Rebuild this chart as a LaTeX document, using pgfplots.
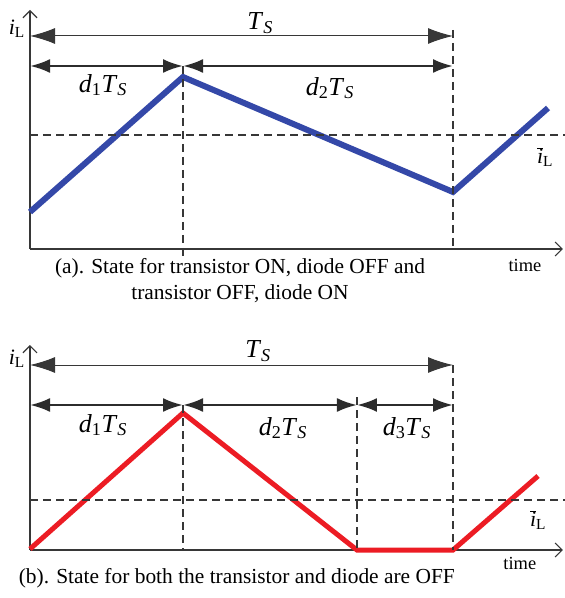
\documentclass[border=0pt]{standalone}
\usepackage{fontspec}
\setmainfont{Liberation Serif}
\usepackage{pgfplots}
\pgfplotsset{compat=1.18}
\usetikzlibrary{arrows.meta}
\definecolor{curblue}{RGB}{52,72,168}
\definecolor{curred}{RGB}{236,28,36}
\definecolor{ink}{RGB}{55,55,55}

\pgfplotsset{
  panel/.style={
    x=423bp, y=1bp, xmin=0, xmax=1.26, ymin=0,
    axis lines=left, xtick=\empty, ytick=\empty,
    axis line style={ink, line width=1.3bp,
      -{Straight Barb[length=7bp,width=14bp,line width=1.2bp]}},
    clip=false, anchor=south west,
  },
}
\tikzset{
  guideline/.style={ink, line width=1.1bp, dash pattern=on 8bp off 5bp},
  spanarr/.style={ink, line width=1bp,
    {Latex[length=25bp,width=16bp]}-{Latex[length=25bp,width=16bp]}},
  partarr/.style={ink!80!black, line width=2.6bp,
    {Latex[length=20bp,width=14bp]}-{Latex[length=20bp,width=14bp]}},
  labtxt/.style={font=\fontsize{26}{28}\selectfont, inner sep=0pt},
  smalllab/.style={font=\fontsize{22}{24}\selectfont, inner sep=0pt},
  captxt/.style={font=\fontsize{21.5}{26}\selectfont, align=center},
}
\newcommand{\dT}[1]{\textit{d}\textsubscript{#1}\textit{T}\textsubscript{\textit{S}}}
\newcommand{\ibar}{$\overline{\mbox{\textit{i}}}$\textsubscript{L}}

\begin{document}
\begin{tikzpicture}[x=1bp,y=1bp]
\useasboundingbox (-30,-349) rectangle (535,249);

% (a) transistor ON / diode ON, continuous conduction
\begin{axis}[panel, ymax=239, at={(0,0)}]
\addplot[curblue, line width=6bp] coordinates {(0,37) (0.3617,172) (1,57) (1.2246,141)};
\draw[guideline] (0,114) -- (1.265,114);
\draw[guideline] (0.3617,183) -- (0.3617,-10);
\draw[guideline] (1,219) -- (1,0);
\draw[spanarr] (0,213) -- (1,213);
\draw[partarr] (0,183) -- (0.3617,183);
\draw[partarr] (0.3617,183) -- (1,183);
\node[labtxt] at (0.544,226) {\textit{T}\textsubscript{\textit{S}}};
\node[labtxt] at (0.1726,164) {\dT{1}};
\node[labtxt] at (0.709,161) {\dT{2}};
\node[smalllab] at (1.2175,92) {\ibar};
\node[font=\fontsize{18.5}{20}\selectfont] at (1.170,-16) {time};
\node[smalllab] at (-0.031,220) {\textit{i}\textsubscript{L}};
\node[captxt] at (0.4965,-32) {(a). State for transistor ON, diode OFF and\\transistor OFF, diode ON};
\end{axis}

% (b) discontinuous conduction
\begin{axis}[panel, ymax=205, at={(0,-301)}]
\addplot[curred, line width=5bp] coordinates {(0,1) (0.3617,137) (0.773,0) (1,0) (1.201,74)};
\draw[guideline] (0,50) -- (1.265,50);
\draw[guideline] (0.3617,145) -- (0.3617,0);
\draw[guideline] (0.773,153) -- (0.773,0);
\draw[guideline] (1,185) -- (1,0);
\draw[spanarr] (0,185) -- (1,185);
\draw[partarr] (0,145) -- (0.3617,145);
\draw[partarr] (0.3617,145) -- (0.773,145);
\draw[partarr] (0.773,145) -- (1,145);
\node[labtxt] at (0.539,199) {\textit{T}\textsubscript{\textit{S}}};
\node[labtxt] at (0.1726,125) {\dT{1}};
\node[labtxt] at (0.598,122) {\dT{2}};
\node[labtxt] at (0.891,122) {\dT{3}};
\node[smalllab] at (1.201,30) {\ibar};
\node[font=\fontsize{18.5}{20}\selectfont] at (1.158,-13) {time};
\node[smalllab] at (-0.031,191) {\textit{i}\textsubscript{L}};
\node[captxt] at (0.489,-28) {(b). State for both the transistor and diode are OFF};
\end{axis}
\end{tikzpicture}
\end{document}
